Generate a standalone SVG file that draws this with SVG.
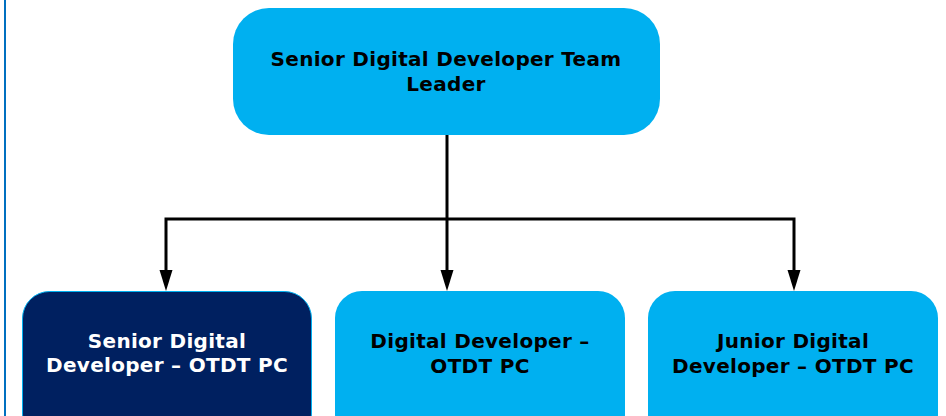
<svg xmlns="http://www.w3.org/2000/svg" width="946" height="416" viewBox="0 0 946 416">
<style>
.box{fill:#00B0F0;}
.dark{fill:#002060;stroke:#00B0F0;stroke-width:1;}
.t{font-family:"DejaVu Sans","Liberation Sans",sans-serif;font-weight:bold;font-size:20px;letter-spacing:0.3px;text-anchor:middle;fill:#000;}
.w{fill:#fff;}
.c{fill:none;stroke:#000;stroke-width:3;stroke-linejoin:miter;}
</style>
<rect x="0" y="0" width="946" height="416" fill="#fff"/>
<line x1="5" y1="0" x2="5" y2="416" stroke="#0070C0" stroke-width="2"/>
<g id="connectors">
<path class="c" d="M447,135 V219"/>
<path class="c" d="M166,271 V219 H794 V271"/>
<path class="c" d="M447,219 V271"/>
<path d="M159.5,270 L172.5,270 L166,291 Z" fill="#000"/>
<path d="M440.5,270 L453.5,270 L447,291 Z" fill="#000"/>
<path d="M787.5,270 L800.5,270 L794,291 Z" fill="#000"/>
</g>
<g id="leader">
<rect class="box" x="233" y="8" width="427" height="127" rx="36" ry="36"/>
<text class="t" x="446" y="66">Senior Digital Developer Team</text>
<text class="t" x="446" y="91">Leader</text>
</g>
<g id="senior">
<rect class="dark" x="22.5" y="291.5" width="289" height="150" rx="27" ry="27"/>
<text class="t w" x="167" y="348">Senior Digital</text>
<text class="t w" x="167" y="372">Developer – OTDT PC</text>
</g>
<g id="developer">
<rect class="box" x="335" y="291" width="290" height="150" rx="27" ry="27"/>
<text class="t" x="480" y="348">Digital Developer –</text>
<text class="t" x="480" y="373">OTDT PC</text>
</g>
<g id="junior">
<rect class="box" x="648" y="291" width="290" height="150" rx="27" ry="27"/>
<text class="t" x="793" y="348">Junior Digital</text>
<text class="t" x="793" y="373">Developer – OTDT PC</text>
</g>
</svg>
